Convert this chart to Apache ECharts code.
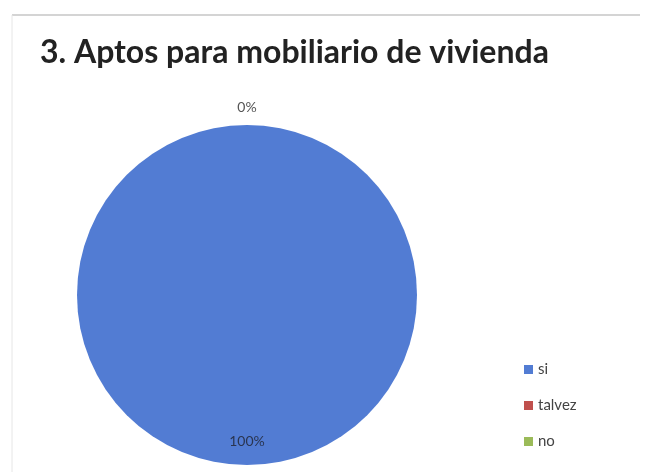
<!DOCTYPE html>
<html><head><meta charset="utf-8">
<script src="https://cdn.jsdelivr.net/npm/echarts@6/dist/echarts.min.js"></script>
<style>html,body{margin:0;padding:0;background:#fff}#c{width:647px;height:472px}</style>
</head><body><div id="c"></div>
<script>
const titleText = '3. Aptos para mobiliario de vivienda';
const categories = ['si', 'talvez', 'no'];
const values = [100, 0, 0];
const colors = ['#527cd3', '#c0504d', '#9bbb59'];

const chart = echarts.init(document.getElementById('c'), null, {renderer: 'canvas'});
const data = categories.map((name, i) => {
  const item = {name: name, value: values[i], itemStyle: {color: colors[i]}};
  if (i === 0) {
    item.label = {position: 'inside', color: '#2a3550'};
  } else if (i === 1) {
    item.label = {position: 'outside', color: '#555'};
  } else {
    item.label = {show: false};
  }
  return item;
});
chart.setOption({
  backgroundColor: '#ffffff',
  animation: false,
  title: {
    text: titleText, left: 35, top: 32,
    textStyle: {fontFamily: 'Lato', fontWeight: 'bold', fontSize: 32, color: '#222'}
  },
  graphic: [
    {type: 'line', shape: {x1: 12, y1: 15, x2: 640, y2: 15}, style: {stroke: '#d4d4d4', lineWidth: 2}},
    {type: 'line', shape: {x1: 12, y1: 15, x2: 12, y2: 472}, style: {stroke: '#e6e6e6', lineWidth: 1}}
  ],
  legend: {
    orient: 'vertical', left: 519, top: 357, itemGap: 21,
    itemWidth: 9, itemHeight: 9, icon: 'rect',
    textStyle: {fontFamily: 'Lato', fontSize: 15, color: '#444'},
    data: categories
  },
  series: [{
    type: 'pie',
    center: [247, 295],
    radius: 170,
    startAngle: 90,
    clockwise: true,
    avoidLabelOverlap: false,
    stillShowZeroSum: true,
    label: {
      show: true, formatter: '{d}%', fontFamily: 'Lato', fontSize: 14
    },
    labelLine: {show: false},
    labelLayout: function (p) {
      if (p.dataIndex === 0) return {x: 247, y: 441, align: 'center', verticalAlign: 'middle'};
      if (p.dataIndex === 1) return {x: 247, y: 107, align: 'center', verticalAlign: 'middle'};
      return {};
    },
    emphasis: {disabled: true},
    data: data
  }]
});
</script></body></html>
